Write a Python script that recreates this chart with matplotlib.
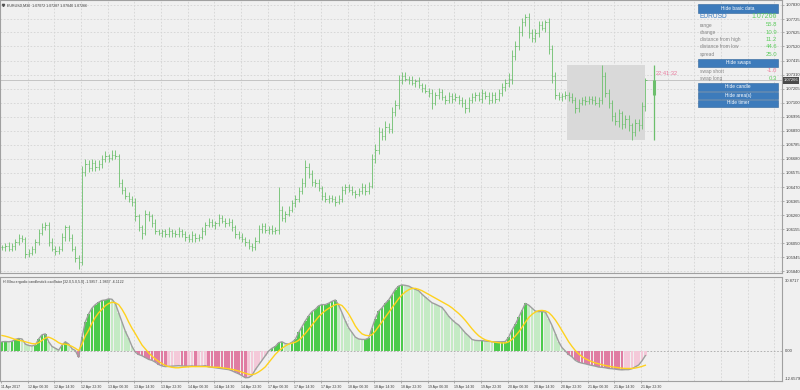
import matplotlib
matplotlib.use("Agg")
import matplotlib.pyplot as plt
import matplotlib.transforms as mtransforms
from matplotlib.patches import Rectangle
import numpy as np

plt.rcParams['font.family'] = ['Liberation Sans', 'DejaVu Sans']

# EURUSD M30 chart, drawn as hourly bars; prices in pips above 1.06000
close_pips = [
    2, 3, 1, 3, 6, 9, 8, -3, -2, 1, 6, 13, 17, 19, 6, 1, -1, 1, 10, 17,
    9, 1, -6, -9, 58, 64, 61, 65, 62, 64, 68, 70, 69, 71, 70, 50, 45, 40, 38, 36,
    25, 17, 13, 27, 25, 20, 14, 13, 14, 12, 14, 13, 12, 14, 12, 10, 8, 11, 9, 10,
    14, 19, 21, 19, 20, 24, 22, 20, 21, 17, 12, 10, 8, 6, 3, 2, 7, 16, 18, 15,
    16, 14, 15, 30, 24, 27, 30, 35, 38, 44, 50, 62, 57, 51, 50, 46, 40, 38, 39, 38,
    36, 38, 45, 47, 45, 43, 42, 44, 47, 44, 48, 68, 75, 88, 85, 92, 90, 103, 108, 127,
    130, 128, 127, 125, 126, 123, 121, 119, 117, 110, 116, 118, 114, 112, 115, 113, 114, 112, 110, 106,
    112, 114, 116, 113, 117, 115, 112, 116, 113, 117, 122, 125, 128, 145, 152, 163, 170, 174, 162, 158,
    162, 168, 166, 170, 150, 130, 116, 114, 115, 116, 114, 112, 106, 110, 112, 111, 113, 112, 110, 112,
    130, 117, 110, 100, 96, 102, 94, 98, 93, 88, 95, 93, 107.2, 126.6,
]
up_wick = [
    2, 2, 3, 2, 2, 3, 2, 2, 3, 2, 2, 3, 3, 2, 2, 3, 2, 2, 3, 2,
    2, 3, 2, 2, 5, 4, 3, 3, 2, 3, 3, 4, 2, 4, 4, 2, 3, 2, 3, 2,
    3, 2, 2, 3, 2, 2, 3, 2, 2, 2, 3, 2, 2, 3, 2, 2, 2, 3, 2, 2,
    3, 2, 3, 2, 2, 3, 2, 2, 3, 2, 2, 2, 3, 2, 2, 2, 3, 3, 2, 2,
    2, 3, 2, 17, 3, 2, 3, 2, 3, 3, 4, 5, 3, 3, 2, 3, 2, 3, 2, 2,
    2, 3, 3, 2, 2, 3, 2, 2, 3, 2, 3, 4, 4, 4, 3, 4, 3, 4, 4, 4,
    3, 3, 2, 3, 2, 3, 2, 3, 2, 3, 2, 3, 2, 2, 3, 2, 3, 2, 2, 3,
    2, 3, 2, 2, 3, 2, 3, 2, 2, 3, 3, 3, 4, 4, 4, 4, 3, 2, 3, 3,
    3, 3, 3, 2, 3, 3, 3, 2, 2, 3, 2, 3, 2, 3, 2, 3, 2, 2, 3, 2,
    8, 3, 3, 2, 3, 3, 2, 3, 3, 2, 3, 3, 3, 2.1,
]
dn_wick = [
    2, 3, 2, 2, 3, 2, 2, 3, 2, 2, 3, 2, 2, 2, 3, 2, 3, 2, 2, 3,
    2, 2, 3, 5, 2, 3, 3, 2, 3, 2, 3, 2, 3, 2, 2, 3, 3, 2, 2, 3,
    3, 3, 5, 2, 3, 3, 2, 2, 3, 2, 2, 3, 2, 2, 2, 3, 2, 2, 3, 2,
    2, 3, 2, 2, 3, 2, 2, 3, 2, 3, 3, 2, 2, 3, 2, 3, 2, 2, 3, 2,
    3, 2, 2, 3, 2, 3, 2, 2, 3, 2, 2, 3, 3, 3, 3, 2, 3, 2, 3, 2,
    3, 2, 2, 3, 2, 2, 3, 2, 2, 3, 2, 2, 3, 3, 3, 3, 3, 3, 3, 3,
    3, 2, 3, 2, 3, 2, 3, 2, 3, 5, 2, 3, 2, 3, 2, 3, 2, 3, 3, 4,
    3, 2, 3, 2, 3, 2, 3, 2, 3, 2, 2, 3, 3, 4, 3, 3, 3, 3, 4, 3,
    3, 3, 2, 3, 4, 5, 3, 2, 3, 2, 3, 2, 4, 3, 2, 3, 2, 3, 2, 3,
    3, 3, 4, 4, 3, 4, 4, 3, 4, 6, 3, 4, 3, 3.2,
]

# Blau ergodic candlestick oscillator and its signal line
osc = [
    4.0, 4.1, 4.0, 4.2, 5.0, 5.4, 5.2, 3.0, 2.4, 2.2, 2.6, 5.2, 7.0, 7.4, 4.0, 2.0, 1.2, 0.4, 2.5, 4.0,
    3.0, 1.0, 0.2, -2.7, 6.0, 12.5, 16.0, 18.5, 20.0, 21.0, 21.8, 22.0, 22.5, 22.3, 20.5, 16.5, 12.5, 8.5, 5.5, 2.0,
    -0.5, -1.5, -2.0, -2.8, -3.6, -4.0, -4.8, -5.8, -6.4, -6.7, -6.6, -6.5, -6.4, -6.3, -6.4, -6.5, -6.5, -6.4, -6.6, -6.5,
    -6.5, -6.3, -6.8, -7.0, -7.2, -7.4, -7.6, -7.8, -8.0, -8.5, -9.2, -9.8, -10.6, -11.5, -11.4, -10.5, -8.0, -6.0, -4.0, -2.0,
    0.0, 1.2, 2.0, 3.6, 4.0, 3.2, 3.0, 3.8, 5.0, 8.0, 10.5, 13.0, 15.2, 17.0, 18.0, 19.5, 20.0, 20.0, 20.6, 21.4,
    22.0, 19.8, 16.5, 13.0, 10.0, 8.0, 6.0, 5.2, 5.0, 5.0, 5.6, 10.0, 14.0, 17.2, 18.6, 20.5, 22.0, 24.2, 26.5, 28.0,
    28.5, 28.3, 28.0, 27.2, 26.6, 26.0, 24.5, 23.2, 22.0, 20.8, 20.2, 19.5, 18.8, 17.0, 15.0, 13.5, 12.2, 11.2, 9.5, 7.8,
    6.5, 5.0, 4.6, 4.5, 4.5, 4.3, 4.2, 4.0, 4.0, 4.0, 4.0, 4.1, 6.0, 9.0, 11.5, 14.5, 17.5, 20.5, 19.8, 18.5,
    17.2, 17.0, 17.0, 16.8, 14.0, 11.0, 7.5, 4.0, 1.5, 0.0, -1.5, -2.5, -4.0, -4.8, -5.2, -5.5, -5.9, -6.2, -6.5, -6.9,
    -7.0, -7.2, -7.5, -7.6, -7.8, -8.0, -8.1, -8.0, -8.0, -7.6, -6.8, -6.0, -4.2, -1.9857,
]
signal = [
    6.7, 6.4, 6.0, 5.5, 5.0, 4.6, 4.4, 4.0, 3.6, 3.2, 3.1, 3.6, 4.6, 5.6, 6.0, 5.4, 4.6, 3.6, 3.0, 3.0,
    2.6, 2.0, 1.2, 0.2, 3.0, 6.5, 9.0, 12.0, 14.5, 16.5, 18.0, 19.5, 20.5, 21.0, 20.8, 20.0, 18.0, 15.5, 12.5, 9.8,
    7.5, 5.0, 2.6, 0.9, -0.8, -2.2, -3.4, -4.5, -5.4, -6.2, -6.7, -7.0, -7.2, -7.2, -7.0, -6.9, -6.8, -6.7, -6.7, -6.7,
    -6.7, -6.7, -6.8, -6.9, -7.0, -7.0, -7.2, -7.4, -7.6, -7.9, -8.2, -8.6, -9.1, -9.6, -10.0, -10.2, -9.8, -9.0, -8.0, -6.8,
    -5.0, -3.2, -1.4, 0.0, 1.2, 2.2, 3.0, 3.4, 3.8, 4.6, 6.0, 7.6, 9.4, 11.2, 13.0, 14.8, 16.2, 17.4, 18.4, 19.2,
    20.0, 20.2, 19.6, 18.0, 16.0, 13.5, 10.8, 8.8, 7.4, 6.8, 6.6, 7.0, 8.6, 10.6, 12.6, 14.6, 16.6, 18.6, 20.6, 22.6,
    24.2, 25.5, 26.4, 27.0, 27.0, 26.6, 26.0, 25.2, 24.4, 23.6, 22.8, 22.0, 21.2, 20.4, 19.6, 18.6, 17.4, 16.2, 14.8, 13.2,
    11.4, 9.6, 8.0, 6.6, 5.6, 4.8, 4.4, 4.0, 3.8, 3.6, 3.5, 3.5, 4.0, 5.0, 6.5, 8.2, 10.2, 12.4, 14.4, 15.8,
    16.8, 17.4, 17.5, 17.3, 16.6, 15.2, 13.4, 11.2, 8.8, 6.4, 4.0, 2.0, 0.2, -1.2, -2.4, -3.3, -4.0, -4.6, -5.1, -5.5,
    -5.9, -6.2, -6.5, -6.8, -7.0, -7.2, -7.4, -7.5, -7.5, -7.5, -7.3, -7.0, -6.6, -6.1122,
]

time_labels = [
    "11 Apr 2017", "12 Apr 06:30", "12 Apr 14:30", "12 Apr 22:30", "13 Apr 06:30",
    "13 Apr 14:30", "13 Apr 22:30", "14 Apr 06:30", "14 Apr 14:30", "14 Apr 22:30",
    "17 Apr 06:30", "17 Apr 14:30", "17 Apr 22:30", "18 Apr 06:30", "18 Apr 14:30",
    "18 Apr 22:30", "19 Apr 06:30", "19 Apr 14:30", "19 Apr 22:30", "20 Apr 06:30",
    "20 Apr 14:30", "20 Apr 22:30", "21 Apr 06:30", "21 Apr 14:30", "21 Apr 22:30",
]
price_labels = [
    "1.07830", "1.07725", "1.07625", "1.07520", "1.07415", "1.07310", "1.07205",
    "1.07100", "1.06995", "1.06890", "1.06785", "1.06680", "1.06575", "1.06470",
    "1.06365", "1.06260", "1.06155", "1.06050", "1.05945", "1.05840",
]
osc_labels = ["30.8717", "0.00", "-12.6579"]

info_names = ["range", "change", "distance from high", "distance from low", "spread"]
info_values = ["55.8", "10.9", "11.2", "44.6", "25.0"]
swap_names = ["swap short", "swap long"]
swap_values = ["-1.0", "0.3"]

BG = "#f0f0f0"
GREEN = "#6cbf6c"
GRID = "#d4d4d4"
TXT = "#3c3c3c"

close = 1.06 + np.array(close_pips) / 10000
opens = np.r_[close[0], close[:-1]]
highs = np.maximum(opens, close) + np.array(up_wick) / 10000
lows = np.minimum(opens, close) - np.array(dn_wick) / 10000
pos = np.arange(len(close)) * 2          # position in M30 bars
day_start = 170                          # first bar of 21 Apr

fig = plt.figure(figsize=(8, 3.9), dpi=100, facecolor=BG)

# ---- price panel
ax1 = fig.add_axes([0, 1 - 273 / 390, 782 / 800, 273 / 390], facecolor=BG)
ax1.set_xlim(-1.2, 468)
ax1.set_ylim(1.05828, 1.07867)

for k in range(1, 30):
    ax1.axvline(16 * k - 0.6, color=GRID, lw=0.6, dashes=(2, 2), zorder=0)
price_vals = [float(p) for p in price_labels]
for v in price_vals:
    ax1.axhline(v, color=GRID, lw=0.6, dashes=(2, 2), zorder=0)
ax1.axhline(close[-1], color="#c4c4c4", lw=0.7, zorder=1)

# today's range area
d_hi, d_lo = highs[day_start:].max(), lows[day_start:].min()
ax1.add_patch(Rectangle((pos[day_start] - 1, d_lo), pos[-1] - pos[day_start] + 1, d_hi - d_lo,
                        facecolor="#d9d9d9", edgecolor="none", zorder=1))

ax1.vlines(pos, lows, highs, color=GREEN, lw=0.6, zorder=3)
ax1.hlines(opens, pos - 0.7, pos, color=GREEN, lw=0.6, zorder=3)
ax1.hlines(close, pos, pos + 0.7, color=GREEN, lw=0.6, zorder=3)

# enlarged daily candle + timer
cx = pos[-1] + 5
ax1.vlines(cx, d_lo, d_hi, color=GREEN, lw=0.9, zorder=3)
ax1.vlines(cx, close[day_start - 1], close[-1], color=GREEN, lw=2.2, zorder=3)
ax1.text(cx + 1.2, 1.07315, "22:41:32", color="#e8799c", fontsize=4.1, va="center", ha="left")

ax1.text(0.009, 0.988, "EURUSD,M30  1.07072 1.07287 1.07040 1.07266", transform=ax1.transAxes,
         fontsize=2.6, color=TXT, va="top", ha="left")
ax1.plot([0.004], [0.98], marker="v", ms=1.6, color="#505050", transform=ax1.transAxes)

ax1.yaxis.tick_right()
ax1.set_yticks(price_vals)
ax1.set_yticklabels(price_labels)
ax1.tick_params(axis="y", labelsize=3.0, labelcolor=TXT, length=1.5, width=0.5, color="#909090", pad=1)
ax1.set_xticks([])
for s in ax1.spines.values():
    s.set_color("#a0a0a0")
    s.set_linewidth(0.8)

tr1 = mtransforms.blended_transform_factory(ax1.transAxes, ax1.transData)
ax1.text(1.002, close[-1], "1.07266", transform=tr1, fontsize=3.0, color="white", va="center", ha="left",
         bbox=dict(boxstyle="square,pad=0.25", fc="#4a4a4a", ec="none"))

# ---- oscillator panel
ax2 = fig.add_axes([0, 1 - 381 / 390, 782 / 800, 104 / 390], facecolor=BG)
ax2.set_xlim(-1.2, 468)
ax2.set_ylim(-12.9, 31.9)
for k in range(1, 30):
    ax2.axvline(16 * k - 0.6, color=GRID, lw=0.6, dashes=(2, 2), zorder=0)
ax2.axhline(0, color="#a8a8a8", lw=0.6, dashes=(2, 2), zorder=0)

o = np.array(osc)
prev = np.r_[o[0], o[:-1]]
cols = np.where(o >= 0,
                np.where(o >= prev, "#4ccb4c", "#c4eac4"),
                np.where(o < prev, "#e07ca2", "#f4c9d9"))
ax2.bar(pos, o, width=1.55, color=cols, lw=0, zorder=2)
ax2.plot(pos, o, color="#9e9e9e", lw=1.0, zorder=3)
ax2.plot(pos, signal, color="#ffd21e", lw=1.0, zorder=4)

ax2.text(0.004, 0.975, "Hi Blau ergodic candlestick oscillator [32.0,5.0,5.0] -1.9857 -1.9857 -6.1122",
         transform=ax2.transAxes, fontsize=2.6, color=TXT, va="top", ha="left")

tr2 = mtransforms.blended_transform_factory(ax2.transAxes, ax2.transData)
ax2.text(1.004, 30.0, osc_labels[0], transform=tr2, fontsize=3.0, color=TXT, va="center")
ax2.text(1.004, 0.0, osc_labels[1], transform=tr2, fontsize=3.0, color=TXT, va="center")
ax2.text(1.004, -12.0, osc_labels[2], transform=tr2, fontsize=3.0, color=TXT, va="center")
ax2.set_yticks([])

ax2.set_xticks([16 * k - 0.6 for k in range(len(time_labels))])
ax2.set_xticklabels(time_labels, ha="left")
ax2.tick_params(axis="x", labelsize=2.5, labelcolor=TXT, length=1.5, width=0.5, color="#909090", pad=1.5)
for s in ax2.spines.values():
    s.set_color("#a0a0a0")
    s.set_linewidth(0.8)

# ---- info panel (pixel coordinates)
ov = fig.add_axes([0, 0, 1, 1])
ov.set_xlim(0, 800)
ov.set_ylim(390, 0)
ov.axis("off")
ov.patch.set_alpha(0)


def button(y0, y1, label):
    ov.add_patch(Rectangle((698, y0), 80, y1 - y0, facecolor="#3d7bbb", edgecolor="#2f6399", lw=0.4))
    ov.text(738, (y0 + y1) / 2, label, color="white", fontsize=3.4, ha="center", va="center")


button(4, 12.5, "Hide basic data")
ov.text(700, 17, "EURUSD", color="#3f80c4", fontsize=4.8, va="center")
ov.text(777, 17, "1.07266", color="#5fcd5f", fontsize=5.0, va="center", ha="right")
for n, (name, val) in enumerate(zip(info_names, info_values)):
    y = 25 + n * 7.3
    ov.text(700, y, name, color="#858585", fontsize=3.5, va="center")
    ov.text(777, y, val, color="#5fcd5f", fontsize=4.3, va="center", ha="right")
button(59, 66.5, "Hide swaps")
for n, (name, val) in enumerate(zip(swap_names, swap_values)):
    y = 71 + n * 7.3
    ov.text(700, y, name, color="#858585", fontsize=3.5, va="center")
    ov.text(777, y, val, color="#f07a9a" if val.startswith("-") else "#5fcd5f",
            fontsize=4.3, va="center", ha="right")
button(83, 90.5, "Hide candle")
button(91.5, 98.5, "Hide area(s)")
button(99.5, 106.5, "Hide timer")

fig.savefig("out.png", dpi=100, facecolor=BG)
